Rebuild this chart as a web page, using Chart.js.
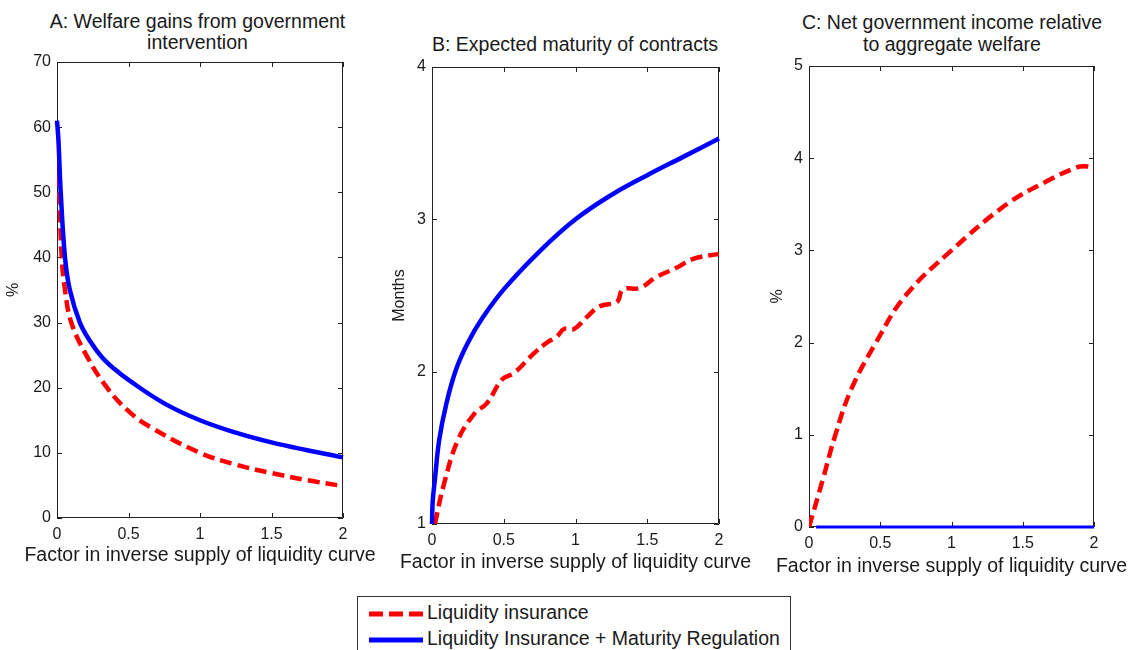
<!DOCTYPE html>
<html>
<head>
<meta charset="utf-8">
<script src="https://cdn.jsdelivr.net/npm/chart.js@4.4.1/dist/chart.umd.min.js"></script>
<style>
  body { margin: 0; background: #fff; width: 1133px; height: 650px; overflow: hidden; position: relative;
         font-family: "Liberation Sans", Arial, sans-serif; color: #1a1a1a; }
  canvas { position: absolute; top: 0; }
  .title { position: absolute; text-align: center; font-size: 19.5px; line-height: 21.7px; white-space: nowrap; }
  .xlabel { position: absolute; width: 420px; text-align: center; font-size: 19.5px; line-height: 22px; white-space: nowrap; }
  .legend { position: absolute; left: 357px; top: 596px; width: 432px; height: 70px; border: 1px solid #333;
            background: #fff; font-size: 19.5px; }
  .legend span { position: absolute; left: 69px; white-space: nowrap; }
  .legend svg { position: absolute; left: 10px; top: 0; }
</style>
</head>
<body>

<div class="title" style="left:0; width:395px; top:10.7px;">A: Welfare gains from government<br>intervention</div>
<div class="title" style="left:375px; width:400px; top:34px;">B: Expected maturity of contracts</div>
<div class="title" style="left:772px; width:360px; top:12.4px;">C: Net government income relative<br>to aggregate welfare</div>

<canvas id="chartA" width="380" height="600" style="left:0px"></canvas>
<canvas id="chartB" width="380" height="600" style="left:380px"></canvas>
<canvas id="chartC" width="373" height="600" style="left:760px"></canvas>

<div class="xlabel" id="xlabA" style="left:-10px; top:543px;"></div>
<div class="xlabel" id="xlabB" style="left:365.5px; top:550px;"></div>
<div class="xlabel" id="xlabC" style="left:741.5px; top:554px;"></div>

<div class="legend">
  <svg width="60" height="60">
    <line x1="1" y1="17" x2="55" y2="17" stroke="#ff0000" stroke-width="5" stroke-dasharray="14 6"></line>
    <line x1="1" y1="43" x2="55" y2="43" stroke="#0000ff" stroke-width="5"></line>
  </svg>
  <span id="leg0" style="top:4px;"></span>
  <span id="leg1" style="top:30px;"></span>
</div>

<script>
const seriesNames = ['Liquidity insurance', 'Liquidity Insurance + Maturity Regulation'];
const xLabel = 'Factor in inverse supply of liquidity curve';
const xTickStep = 0.5;

// A: welfare gains (%)
const welfareInsX = [0, 0.015, 0.033, 0.056, 0.1, 0.21, 0.35, 0.5, 0.65, 1.0, 1.25, 1.5, 1.75, 2.0];
const welfareInsY = [55.5, 50, 40, 35, 30, 24.8, 20, 16.4, 14, 10, 8.2, 6.9, 5.8, 4.9];
const welfareRegX = [0, 0.01, 0.026, 0.056, 0.09, 0.16, 0.23, 0.31, 0.4, 0.5, 0.75, 1.0, 1.25, 1.5, 1.75, 2.0];
const welfareRegY = [61, 58, 50, 40, 35, 30, 27.2, 24.8, 22.9, 21.2, 17.6, 15.0, 13.1, 11.6, 10.4, 9.3];

// B: expected maturity (months)
const maturityInsX = [0.02, 0.08, 0.18, 0.30, 0.38, 0.49, 0.57, 0.71, 0.80, 0.87, 0.92, 0.99, 1.08, 1.17, 1.29, 1.33, 1.45, 1.56, 1.70, 1.82, 1.98, 2.0];
const maturityInsY = [1.0, 1.25, 1.55, 1.73, 1.79, 1.95, 1.99, 2.12, 2.19, 2.23, 2.28, 2.28, 2.36, 2.43, 2.46, 2.54, 2.55, 2.62, 2.68, 2.74, 2.77, 2.77];
const maturityRegX = [0, 0.005, 0.02, 0.05, 0.1, 0.17, 0.25, 0.35, 0.5, 0.75, 1.0, 1.25, 1.5, 1.75, 2.0];
const maturityRegY = [1.0, 1.15, 1.29, 1.55, 1.79, 2.02, 2.19, 2.35, 2.54, 2.79, 3.0, 3.16, 3.29, 3.41, 3.53];

// C: net government income (%)
const incomeInsX = [0, 0.098, 0.185, 0.298, 0.47, 0.672, 1.0, 1.387, 1.668, 1.879, 1.95, 2.0];
const incomeInsY = [0, 0.52, 1.0, 1.5, 2.0, 2.5, 3.0, 3.5, 3.75, 3.9, 3.91, 3.88];
const incomeRegX = [0.05, 2.0];
const incomeRegY = [0, 0];

document.getElementById('leg0').textContent = seriesNames[0];
document.getElementById('leg1').textContent = seriesNames[1];
['xlabA', 'xlabB', 'xlabC'].forEach(id => { document.getElementById(id).textContent = xLabel; });

const toPoints = (xs, ys) => xs.map((x, i) => ({ x: x, y: ys[i] }));
const fontFamily = "'Liberation Sans', Arial, sans-serif";
const textColor = '#1a1a1a';

// box around the plot area with inward ticks on all four sides
const framePlugin = {
  id: 'frame',
  beforeDatasetsDraw(chart) {
    const { ctx, chartArea: a, scales } = chart;
    const len = 5;
    ctx.save();
    ctx.strokeStyle = '#222';
    ctx.lineWidth = 1;
    ctx.beginPath();
    ctx.rect(a.left + 0.5, a.top + 0.5, a.right - a.left - 1, a.bottom - a.top - 1);
    scales.x.ticks.forEach(t => {
      const px = Math.round(scales.x.getPixelForValue(t.value)) + 0.5;
      ctx.moveTo(px, a.bottom); ctx.lineTo(px, a.bottom - len);
      ctx.moveTo(px, a.top); ctx.lineTo(px, a.top + len);
    });
    scales.y.ticks.forEach(t => {
      const py = Math.round(scales.y.getPixelForValue(t.value)) + 0.5;
      ctx.moveTo(a.left, py); ctx.lineTo(a.left + len, py);
      ctx.moveTo(a.right, py); ctx.lineTo(a.right - len, py);
    });
    ctx.stroke();
    ctx.restore();
  }
};

function makePanel(id, cfg) {
  return new Chart(document.getElementById(id), {
    type: 'line',
    data: {
      datasets: [
        {
          label: seriesNames[0],
          data: toPoints(cfg.insX, cfg.insY),
          borderColor: '#ff0000',
          borderWidth: 4.5,
          borderDash: [12, 6],
          pointRadius: 0,
          tension: 0.4,
          order: 1
        },
        {
          label: seriesNames[1],
          data: toPoints(cfg.regX, cfg.regY),
          borderColor: '#0000ff',
          borderWidth: cfg.regWidth,
          pointRadius: 0,
          tension: 0.4,
          clip: false,
          order: 0
        }
      ]
    },
    options: {
      responsive: false,
      animation: false,
      devicePixelRatio: 1,
      layout: { padding: { left: 0, top: cfg.top, right: cfg.right, bottom: 0 } },
      plugins: { legend: { display: false }, tooltip: { enabled: false } },
      scales: {
        x: {
          type: 'linear',
          min: 0,
          max: 2,
          ticks: { stepSize: xTickStep, padding: 7, maxRotation: 0, color: textColor,
                   font: { family: fontFamily, size: 16 },
                   callback: v => String(v) },
          grid: { display: false, drawTicks: false },
          border: { display: false },
          afterFit: scale => { scale.height = cfg.xAxisH; }
        },
        y: {
          type: 'linear',
          min: cfg.yMin,
          max: cfg.yMax,
          ticks: { stepSize: cfg.yStep, padding: 6, color: textColor,
                   font: { family: fontFamily, size: 16 } },
          grid: { display: false, drawTicks: false },
          border: { display: false },
          title: { display: true, text: cfg.yLabel, color: textColor,
                   font: { family: fontFamily, size: 16 },
                   padding: { top: cfg.yTitlePad, bottom: 0 } },
          afterFit: scale => { scale.width = cfg.yAxisW; }
        }
      }
    },
    plugins: [framePlugin]
  });
}

makePanel('chartA', {
  insX: welfareInsX, insY: welfareInsY, regX: welfareRegX, regY: welfareRegY, regWidth: 4.5,
  yMin: 0, yMax: 70, yStep: 10, yLabel: '%',
  top: 62, right: 37, yAxisW: 57, xAxisH: 82, yTitlePad: 4.4
});

makePanel('chartB', {
  insX: maturityInsX, insY: maturityInsY, regX: maturityRegX, regY: maturityRegY, regWidth: 4.5,
  yMin: 1, yMax: 4, yStep: 1, yLabel: 'Months',
  top: 67, right: 41, yAxisW: 52, xAxisH: 76, yTitlePad: 10.4
});

makePanel('chartC', {
  insX: incomeInsX, insY: incomeInsY, regX: incomeRegX, regY: incomeRegY, regWidth: 3,
  yMin: 0, yMax: 5, yStep: 1, yLabel: '%',
  top: 66, right: 39, yAxisW: 49, xAxisH: 73, yTitlePad: 8.4
});
</script>
</body>
</html>
